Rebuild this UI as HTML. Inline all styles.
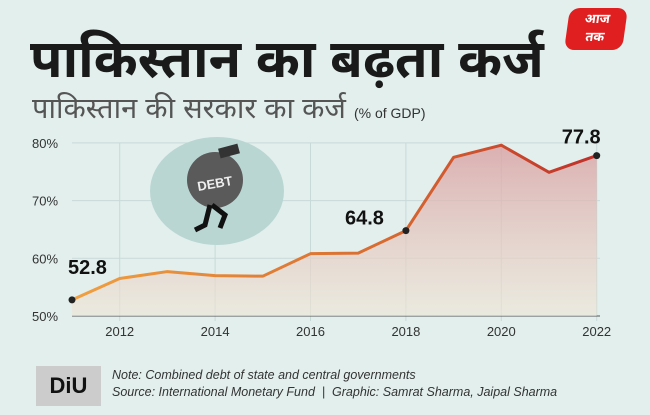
<!DOCTYPE html>
<html><head><meta charset="utf-8"><style>
body{margin:0;width:650px;height:415px;background:#e2efed;overflow:hidden;font-family:"Liberation Sans",sans-serif;position:relative}
.t{position:absolute;margin:0}
</style></head><body>
<h1 class="t" style="left:30px;top:30px;font-size:53px;font-weight:bold;color:#1a1a1a;line-height:60px;font-family:'Liberation Sans','Noto Sans Devanagari',sans-serif">पाकिस्तान का बढ़ता कर्ज</h1>
<div class="t" style="left:32px;top:92px;font-size:29px;color:#555;line-height:34px;font-family:'Liberation Sans','Noto Sans Devanagari',sans-serif">पाकिस्तान की सरकार का कर्ज <span style="font-size:14px;color:#333">(% of GDP)</span></div>
<div class="t" style="left:567px;top:8px;width:58px;height:40px;background:#e02020;border-radius:10px;transform:skewX(-8deg);color:#fff;font-size:13px;font-weight:bold;text-align:center;line-height:18px;padding-top:2px;font-family:'Liberation Sans','Noto Sans Devanagari',sans-serif">आज<br>तक</div>
<svg id="chart" width="650" height="415" style="position:absolute;left:0;top:0">
<defs><linearGradient id="fillg" x1="0" y1="0" x2="0" y2="1"><stop offset="0" stop-color="#d9a0a2" stop-opacity="0.8"/><stop offset="1" stop-color="#f0e6d6" stop-opacity="0.6"/></linearGradient>
<linearGradient id="lineg" x1="0" y1="0" x2="1" y2="0"><stop offset="0" stop-color="#f0a040"/><stop offset="0.6" stop-color="#d86a30"/><stop offset="1" stop-color="#c0302a"/></linearGradient></defs>
<g id="grid"></g>
<ellipse cx="217" cy="191" rx="67" ry="54" fill="#b9d6d3"/>
<circle cx="215" cy="180" r="28" fill="#5a5a5a"/>
<rect x="219" y="146" width="20" height="10" fill="#333" transform="rotate(-15 229 151)"/>
<text x="215" y="188" font-size="13" font-weight="bold" fill="#eee" text-anchor="middle" font-family="Liberation Sans" transform="rotate(-10 215 184)">DEBT</text>
<path d="M210 205 L205 225 L195 230 M212 205 L225 215 L220 228" stroke="#111" stroke-width="5" fill="none"/>
<g id="marks"></g>
</svg>
<div class="t" style="left:36px;top:366px;width:65px;height:40px;background:#ccc;font-weight:bold;font-size:22px;text-align:center;line-height:40px;color:#111">DiU</div>
<div class="t" style="left:112px;top:367px;font-size:12.5px;font-style:italic;color:#333;line-height:17px">Note: Combined debt of state and central governments<br>Source: International Monetary Fund &nbsp;| &nbsp;Graphic: Samrat Sharma, Jaipal Sharma</div>
<script>
const years=[2011,2012,2013,2014,2015,2016,2017,2018,2019,2020,2021,2022];
const values=[52.8,56.5,57.7,57.0,56.9,60.8,60.9,64.8,77.5,79.6,74.9,77.8];
const yTicks=[50,60,70,80];
const xTicks=[2012,2014,2016,2018,2020,2022];
const labeled=[2011,2018,2022];
const NS="http://www.w3.org/2000/svg";
const X=y=>72+(y-2011)*47.7;
const Y=v=>316-(v-50)*5.77;
function mk(t,a,p){const e=document.createElementNS(NS,t);for(const k in a)e.setAttribute(k,a[k]);p.appendChild(e);return e;}
const g=document.getElementById('grid'),m=document.getElementById('marks');
yTicks.forEach(v=>{
 const l=mk('line',{x1:72,x2:600,y1:Y(v),y2:Y(v),stroke:'#c8dad8','stroke-width':1},g);
 
 const t=mk('text',{x:32,y:Y(v)+5,'font-size':13,fill:'#333','font-family':'Liberation Sans'},g);t.textContent=v+'%';
 
});
xTicks.forEach(y=>{
 const l=mk('line',{x1:X(y),x2:X(y),y1:Y(80),y2:Y(50)+5,stroke:'#c8dad8','stroke-width':1},g);
 
 const t=mk('text',{x:X(y),y:336,'font-size':13,fill:'#333','text-anchor':'middle','font-family':'Liberation Sans'},g);t.textContent=y;
 
});
const ax=mk('line',{x1:72,x2:600,y1:Y(50),y2:Y(50),stroke:'#555','stroke-width':1},g);

const pts=years.map((y,i)=>X(y)+','+Y(values[i]));
const area=mk('polygon',{points:X(years[0])+','+Y(50)+' '+pts.join(' ')+' '+X(years[years.length-1])+','+Y(50),fill:'url(#fillg)'},m);

const line=mk('polyline',{points:pts.join(' '),fill:'none',stroke:'url(#lineg)','stroke-width':3,'stroke-linejoin':'round'},m);

labeled.forEach(y=>{
 const i=years.indexOf(y),v=values[i];
 const c=mk('circle',{cx:X(y),cy:Y(v),r:3.5,fill:'#222'},m);
 
 let tx=X(y),ty=Y(v)-20,anc='start';
 if(y===2011){tx=X(y)-4;ty=Y(v)-26;}
 if(y===2018){anc='end';tx=X(y)-22;ty=Y(v)-6;}
 if(y===2022){tx=X(y)+4;ty=Y(v)-12;anc='end';}
 const t=mk('text',{x:tx,y:ty,'font-size':20,'font-weight':'bold',fill:'#111','text-anchor':anc,'font-family':'Liberation Sans'},m);t.textContent=v.toFixed(1);
 
});
</script>
</body></html>
